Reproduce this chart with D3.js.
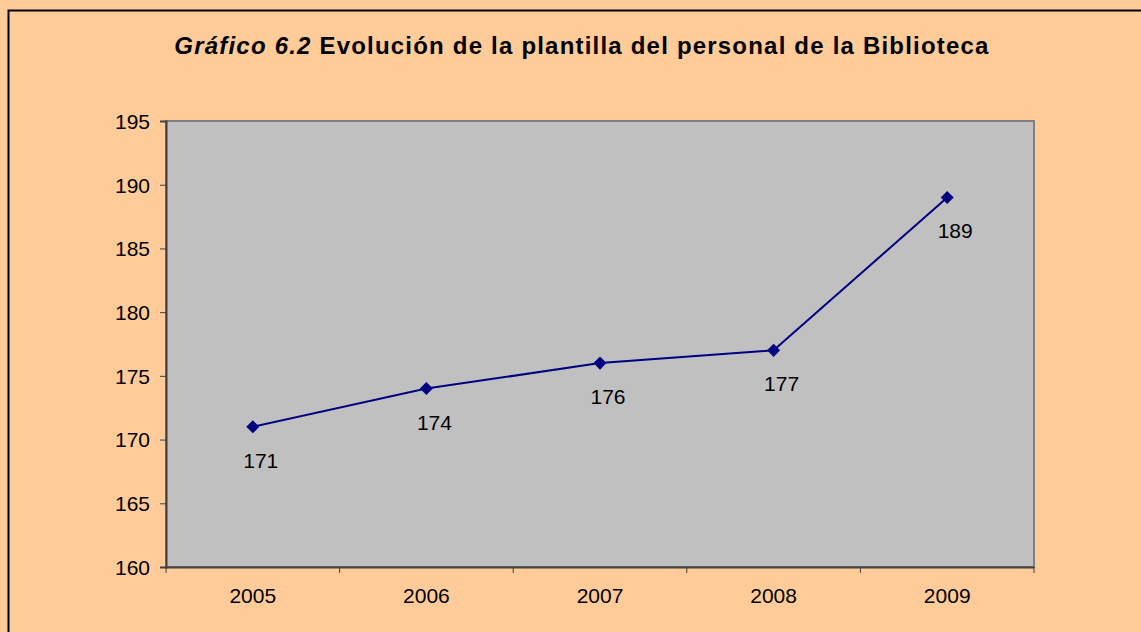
<!DOCTYPE html>
<html>
<head>
<meta charset="utf-8">
<script src="https://cdn.jsdelivr.net/npm/d3@7"></script>
<style>
  body { margin: 0; background: #FFCC99; }
  text { font-family: "Liberation Sans", Arial, sans-serif; }
</style>
</head>
<body>
<div id="chart"></div>
<script>
// data
var years = ['2005', '2006', '2007', '2008', '2009']
var staff = [171, 174, 176, 177, 189]
var yTicks = [160, 165, 170, 175, 180, 185, 190, 195]

var width = 1141, height = 632
var margin = {top: 121, left: 166, right: 107, bottom: 65}
var plotW = width - margin.left - margin.right,
    plotH = height - margin.top - margin.bottom

var svg = d3.select('#chart').append('svg')
  .attr('width', width)
  .attr('height', height)

// outer frame (only top and left are visible)
svg.append('rect')
  .attr('x', 8.5).attr('y', 10.5)
  .attr('width', width + 10).attr('height', height + 10)
  .style('fill', '#FFCC99')
  .style('stroke', '#000')
  .style('stroke-width', 2)

// title
var title = svg.append('text')
  .attr('x', 582)
  .attr('y', 54)
  .attr('text-anchor', 'middle')
  .style('font-size', '24px')
  .style('letter-spacing', '1.2px')
  .style('font-weight', 'bold')
title.append('tspan').style('font-style', 'italic').text('Gráfico 6.2')
title.append('tspan').text(' Evolución de la plantilla del personal de la Biblioteca')

var x = d3.scaleBand().domain(years).range([0, plotW])
var y = d3.scaleLinear().domain([160, 195]).range([plotH, 0])

var g = svg.append('g').attr('transform', 'translate(' + margin.left + ',' + margin.top + ')')

// plot area
g.append('rect')
  .attr('width', plotW).attr('height', plotH)
  .style('fill', '#C0C0C0')
  .style('stroke', '#808080')
  .style('stroke-width', 2)

// y axis
var yAxis = d3.axisLeft(y).tickValues(yTicks).tickSize(6).tickPadding(10)
var ya = g.append('g').call(yAxis)
ya.select('.domain').style('stroke', '#404040').style('stroke-width', 2)
ya.selectAll('.tick line').style('stroke', '#404040')
ya.selectAll('.tick text').style('font-size', '21px').style('fill', '#000').attr('dy', '0.35em')

// x axis, ticks between categories
var xa = g.append('g').attr('transform', 'translate(0,' + plotH + ')')
  .call(d3.axisBottom(x).tickSize(0).tickPadding(21))
xa.select('.domain').style('stroke', '#404040').style('stroke-width', 2)
xa.selectAll('.tick text').style('font-size', '21px').style('fill', '#000')
xa.selectAll('.sep')
  .data(years.concat(['end']))
  .enter().append('line')
  .attr('x1', function(d, i) { return i * x.step() })
  .attr('x2', function(d, i) { return i * x.step() })
  .attr('y1', 0).attr('y2', 6)
  .style('stroke', '#404040')

// line
var line = d3.line()
  .x(function(d, i) { return x(years[i]) + x.bandwidth() / 2 })
  .y(function(d) { return y(d) })

g.append('path')
  .datum(staff)
  .attr('d', line)
  .style('fill', 'none')
  .style('stroke', '#000080')
  .style('stroke-width', 2)

// diamond markers
g.selectAll('.pt')
  .data(staff)
  .enter().append('path')
  .attr('class', 'pt')
  .attr('d', d3.symbol(d3.symbolSquare, 85))
  .attr('transform', function(d, i) {
    return 'translate(' + (x(years[i]) + x.bandwidth() / 2) + ',' + y(d) + ') rotate(45)'
  })
  .style('fill', '#000080')

// value labels
g.selectAll('.lbl')
  .data(staff)
  .enter().append('text')
  .attr('class', 'lbl')
  .attr('x', function(d, i) { return x(years[i]) + x.bandwidth() / 2 + 8 })
  .attr('y', function(d) { return y(d) + 41 })
  .attr('text-anchor', 'middle')
  .style('font-size', '21px')
  .text(function(d) { return d })
</script>
</body>
</html>
